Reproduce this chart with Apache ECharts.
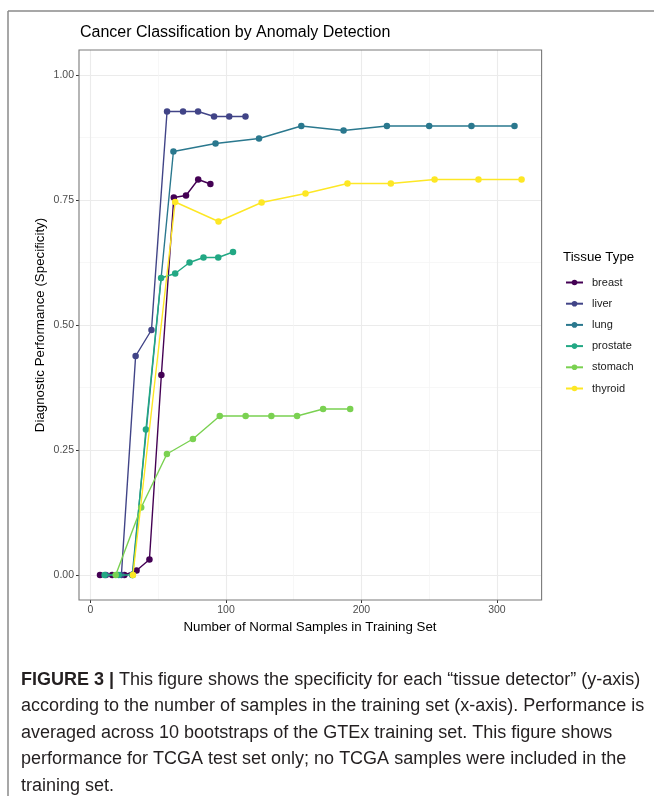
<!DOCTYPE html>
<html>
<head>
<meta charset="utf-8">
<script src="https://cdn.jsdelivr.net/npm/echarts@6/dist/echarts.min.js"></script>
<style>html,body{margin:0;padding:0;background:#fff}#c{width:654px;height:796px}</style>
</head>
<body>
<div id="c"></div>
<script>
// ---- data ----
const tissues = ['breast', 'liver', 'lung', 'prostate', 'stomach', 'thyroid'];
const colors = ['#440154', '#414487', '#2A788E', '#22A884', '#7AD151', '#FDE725'];

const breastX = [7, 16, 25, 34, 43.5, 52.3, 61.5, 70.5, 79.5, 88.5];
const breastY = [0, 0, 0, 0.009, 0.031, 0.40, 0.755, 0.759, 0.791, 0.782];

const liverX = [11.4, 22.8, 33.3, 45.0, 56.5, 68.3, 79.4, 91.2, 102.4, 114.4];
const liverY = [0, 0, 0.438, 0.49, 0.927, 0.927, 0.927, 0.917, 0.917, 0.917];

const lungX = [30.8, 61.2, 92.3, 124.4, 155.6, 186.8, 218.8, 250.0, 281.2, 313.0];
const lungY = [0, 0.847, 0.863, 0.873, 0.898, 0.889, 0.898, 0.898, 0.898, 0.898];

const prostateX = [10.4, 20.8, 31.2, 40.9, 52.1, 62.5, 73.1, 83.4, 94.3, 105.2];
const prostateY = [0, 0, 0, 0.291, 0.594, 0.603, 0.625, 0.635, 0.635, 0.646];

const stomachX = [18.6, 37.4, 56.4, 75.6, 95.4, 114.5, 133.5, 152.5, 171.7, 191.7];
const stomachY = [0, 0.135, 0.242, 0.272, 0.318, 0.318, 0.318, 0.318, 0.332, 0.332];

const thyroidX = [31.3, 62.5, 94.5, 126.3, 158.7, 189.7, 221.7, 254.0, 286.4, 318.2];
const thyroidY = [0, 0.746, 0.707, 0.745, 0.763, 0.783, 0.783, 0.791, 0.791, 0.791];

const xTicks = [0, 100, 200, 300];
const xMinor = [50, 150, 250];
const yTicks = [0, 0.25, 0.5, 0.75, 1.0];
const yMinor = [0.125, 0.375, 0.625, 0.875];

const titleText = 'Cancer Classification by Anomaly Detection';
const xTitle = 'Number of Normal Samples in Training Set';
const yTitle = 'Diagnostic Performance (Specificity)';
const legendTitle = 'Tissue Type';
const captionLines = [
  ['FIGURE 3 |', ' This figure shows the specificity for each \u201ctissue detector\u201d (y-axis)'],
  ['', 'according to the number of samples in the training set (x-axis). Performance is'],
  ['', 'averaged across 10 bootstraps of the GTEx training set. This figure shows'],
  ['', 'performance for TCGA test set only; no TCGA samples were included in the'],
  ['', 'training set.']
];

// ---- chart ----
const xs = [breastX, liverX, lungX, prostateX, stomachX, thyroidX];
const ys = [breastY, liverY, lungY, prostateY, stomachY, thyroidY];

const chart = echarts.init(document.getElementById('c'));
const FONT = '"Liberation Sans", Arial, sans-serif';
const XMIN = -8.5, XMAX = 333, YMIN = -0.05, YMAX = 1.05;

const series = tissues.map((t, i) => ({
  name: t,
  type: 'line',
  xAxisIndex: 0, yAxisIndex: 0,
  data: xs[i].map((x, j) => [x, ys[i][j]]),
  symbol: 'circle',
  symbolSize: 6.5,
  showSymbol: true,
  lineStyle: { width: 1.4, color: colors[i] },
  itemStyle: { color: colors[i] },
  emphasis: { disabled: true },
  animation: false,
  z: 3 + i
}));

const graphics = [
  { type: 'line', shape: { x1: 8, y1: 11, x2: 654, y2: 11 }, style: { stroke: '#8a8a8a', lineWidth: 1.5 } },
  { type: 'line', shape: { x1: 8, y1: 11, x2: 8, y2: 796 }, style: { stroke: '#8a8a8a', lineWidth: 1.5 } },
  { type: 'text', left: 80, top: 25, style: { text: titleText, font: '16px ' + FONT, fill: '#000' } },
  { type: 'text', left: 563, top: 251, style: { text: legendTitle, font: '13.3px ' + FONT, fill: '#000' } },
  { type: 'text', x: 310, y: 627, style: { text: xTitle, font: '13.3px ' + FONT, fill: '#000', textAlign: 'center', textVerticalAlign: 'middle' } },
  { type: 'text', x: 40, y: 325, rotation: Math.PI / 2, style: { text: yTitle, font: '13.3px ' + FONT, fill: '#000', textAlign: 'center', textVerticalAlign: 'middle' } }
];
captionLines.forEach((ln, k) => {
  graphics.push({
    type: 'text', x: 21, y: 680 + k * 26.4,
    style: {
      text: (ln[0] ? '{b|' + ln[0] + '}' : '') + '{n|' + ln[1] + '}',
      textVerticalAlign: 'middle',
      rich: {
        b: { font: 'bold 18px ' + FONT, fill: '#231f20' },
        n: { font: '18px ' + FONT, fill: '#231f20' }
      }
    }
  });
});

chart.setOption({
  animation: false,
  backgroundColor: '#fff',
  grid: { left: 79, right: 112.4, top: 50, bottom: 196, containLabel: false, show: false },
  xAxis: [
    {
      type: 'value', min: XMIN, max: XMAX, position: 'bottom',
      axisLine: { show: false, onZero: false },
      axisTick: { show: true, customValues: xTicks, length: 3, lineStyle: { color: '#333', width: 1 } },
      axisLabel: { customValues: xTicks, color: '#4d4d4d', fontSize: 10.5, fontFamily: FONT, margin: 5 },
      splitLine: { show: true, lineStyle: { color: '#ebebeb', width: 1.1 } }
    },
    {
      type: 'value', min: XMIN, max: XMAX, position: 'bottom',
      axisLine: { show: false, onZero: false },
      axisTick: { show: false, customValues: xMinor },
      axisLabel: { show: false, customValues: xMinor },
      splitLine: { show: true, lineStyle: { color: '#f3f3f3', width: 0.7 } }
    }
  ],
  yAxis: [
    {
      type: 'value', min: YMIN, max: YMAX, position: 'left',
      axisLine: { show: false, onZero: false },
      axisTick: { show: true, customValues: yTicks, length: 3, lineStyle: { color: '#333', width: 1 } },
      axisLabel: { customValues: yTicks, color: '#4d4d4d', fontSize: 10.5, fontFamily: FONT, margin: 5,
        formatter: v => v.toFixed(2) },
      splitLine: { show: true, lineStyle: { color: '#ebebeb', width: 1.1 } }
    },
    {
      type: 'value', min: YMIN, max: YMAX, position: 'left',
      axisLine: { show: false, onZero: false },
      axisTick: { show: false, customValues: yMinor },
      axisLabel: { show: false, customValues: yMinor },
      splitLine: { show: true, lineStyle: { color: '#f3f3f3', width: 0.7 } }
    }
  ],
  legend: {
    orient: 'vertical', left: 565, top: 277, padding: 0,
    itemWidth: 17, itemHeight: 7, itemGap: 10.2,
    textStyle: { color: '#1a1a1a', fontSize: 11, fontFamily: FONT, padding: [0, 0, 0, 4] },
    data: tissues,
    selectedMode: false
  },
  series: series.concat([{
    type: 'line', data: [], xAxisIndex: 0, yAxisIndex: 0, silent: true,
    markArea: {
      silent: true,
      itemStyle: { color: 'rgba(0,0,0,0)', borderColor: '#7a7a7a', borderWidth: 1.1 },
      data: [[{ coord: [XMIN, YMIN] }, { coord: [XMAX, YMAX] }]]
    }
  }]),
  graphic: graphics
});
</script>
</body>
</html>
